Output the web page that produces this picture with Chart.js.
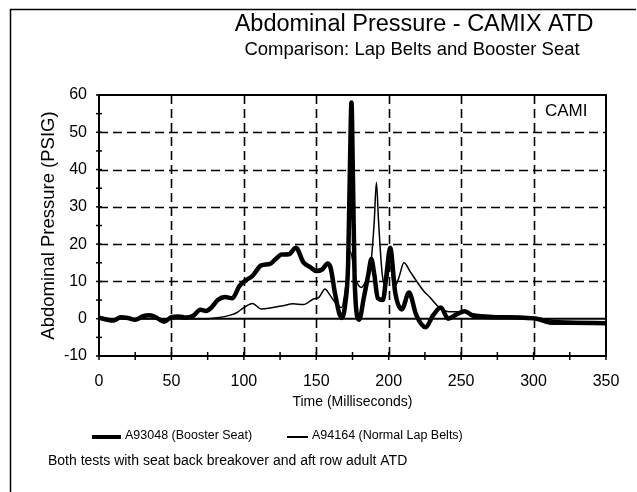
<!DOCTYPE html>
<html>
<head>
<meta charset="utf-8">
<title>Abdominal Pressure - CAMIX ATD</title>
<script src="https://cdn.jsdelivr.net/npm/chart.js@4.4.1/dist/chart.umd.min.js"></script>
<style>
  html, body { margin: 0; padding: 0; background: #fff; }
  #wrap { width: 637px; height: 492px; position: relative; }
</style>
</head>
<body>
<div id="wrap"><canvas id="c" width="637" height="492"></canvas></div>
<script>
// Booster seat test A93048 (thick trace): time in ms, pressure in PSIG
const boosterTime = [0, 5, 10, 15, 20, 25, 30, 35, 40, 45, 50, 55, 60, 65, 70, 74, 78, 82, 87, 92,
  97, 101, 106, 112, 118, 122, 126, 131, 136, 141, 146, 150, 154, 158, 160, 163, 167.5, 170, 172,
  173.2, 174.3, 175.3, 176.5, 179.5, 183, 186, 188, 190, 192.5, 196, 198.5, 201, 204.5, 209, 214,
  219, 225.5, 230.5, 236, 241, 247, 252.5, 258, 265, 275, 290, 302, 311, 325, 350];
const boosterPSI = [0.3, -0.2, -0.5, 0.4, 0.2, -0.3, 0.6, 0.9, 0.2, -0.8, 0.4, 0.6, 0.3, 0.8, 2.4, 2.1, 3.2, 5.0, 5.8, 5.5,
  8.8, 10.2, 11.5, 14.3, 14.7, 16.0, 17.2, 17.3, 19.0, 15.2, 13.8, 12.8, 13.2, 14.8, 13.5, 6.6, 0.2, 4, 15,
  40, 58, 38, 10, -0.3, 6, 12, 16, 12, 5.5, 5, 12, 19, 7, 2.5, 7,
  1.0, -2.3, 0.8, 3.0, 0, 1.2, 2.0, 0.8, 0.5, 0.4, 0.3, 0, -1, -1.1, -1.2];

// Normal lap belt test A94164 (thin trace)
const lapTime = [0, 20, 40, 60, 75, 83, 90, 95, 100, 106, 112, 120, 127, 134, 141, 148, 152, 156, 159,
  164, 167.5, 170.5, 173.5, 177, 181, 185, 188, 190, 191.5, 193, 195.5, 198, 201, 204, 207, 210.5,
  215, 219, 224, 228.5, 235, 242, 250, 260, 275, 300, 315, 330, 350];
const lapPSI = [0, 0, 0, 0, 0, 0.3, 0.9, 1.6, 3.0, 4.1, 2.6, 3.0, 3.5, 4.0, 3.8, 5.3, 5.8, 8.0, 6.6,
  3.9, 3.0, 9, 18, 11, 8.4, 11, 16, 26, 36.5, 26, 12, 9, 14, 8.5, 11, 15,
  12.5, 10.2, 7.5, 5.7, 3.0, 1.9, 1.9, 1.2, 0.8, 0.4, -0.5, -0.8, -0.8];

const seriesLabels = ['A93048 (Booster Seat)', 'A94164 (Normal Lap Belts)'];
const xTicks = [0, 50, 100, 150, 200, 250, 300, 350];
const yTicks = [-10, 0, 10, 20, 30, 40, 50, 60];

const chartTitle = 'Abdominal Pressure - CAMIX ATD';
const chartSubtitle = 'Comparison: Lap Belts and Booster Seat';
const cornerTag = 'CAMI';
const footNote = 'Both tests with seat back breakover and aft row adult ATD';

const FONT = '"Liberation Sans", Arial, Helvetica, sans-serif';

const toPoints = (xs, ys) => xs.map((x, i) => ({ x, y: ys[i] }));

// Dashed grid, zero line, crossing tick marks and the plot frame
const gridPlugin = {
  id: 'grid',
  beforeDatasetsDraw(chart) {
    const { ctx, chartArea: a, scales: { x, y } } = chart;
    ctx.save();
    ctx.strokeStyle = '#000';
    ctx.lineWidth = 1.6;
    ctx.setLineDash([9, 5]);
    xTicks.slice(1, -1).forEach(v => {
      const px = Math.round(x.getPixelForValue(v)) + 0.5;
      ctx.beginPath(); ctx.moveTo(px, a.top); ctx.lineTo(px, a.bottom); ctx.stroke();
    });
    yTicks.slice(2, -1).forEach(v => {
      const py = Math.round(y.getPixelForValue(v)) + 0.5;
      ctx.beginPath(); ctx.moveTo(a.left, py); ctx.lineTo(a.right, py); ctx.stroke();
    });
    ctx.setLineDash([]);
    // zero line
    ctx.lineWidth = 2;
    const y0 = y.getPixelForValue(0);
    ctx.beginPath(); ctx.moveTo(a.left, y0); ctx.lineTo(a.right, y0); ctx.stroke();
    ctx.restore();
  },
  afterDatasetsDraw(chart) {
    const { ctx, chartArea: a, scales: { x, y } } = chart;
    ctx.save();
    ctx.strokeStyle = '#000';
    ctx.lineWidth = 2;
    ctx.strokeRect(a.left, a.top, a.right - a.left, a.bottom - a.top);
    ctx.lineWidth = 1.5;
    for (let v = 0; v <= 350; v += 25) {
      const px = x.getPixelForValue(v);
      ctx.beginPath(); ctx.moveTo(px, a.bottom - 4); ctx.lineTo(px, a.bottom + 4); ctx.stroke();
    }
    for (let v = -10; v <= 60; v += 5) {
      const py = y.getPixelForValue(v);
      ctx.beginPath(); ctx.moveTo(a.left - 3, py); ctx.lineTo(a.left + 3, py); ctx.stroke();
    }
    ctx.restore();
  }
};

// Titles, corner tag, legend and footnote
const textPlugin = {
  id: 'texts',
  afterDraw(chart) {
    const { ctx } = chart;
    ctx.save();
    ctx.fillStyle = '#000';
    ctx.strokeStyle = '#000';
    // outer frame
    ctx.lineWidth = 1.5;
    ctx.beginPath();
    ctx.moveTo(10.5, 500); ctx.lineTo(10.5, 9.5); ctx.lineTo(636, 9.5);
    ctx.stroke();

    ctx.textBaseline = 'middle';
    ctx.textAlign = 'center';
    ctx.font = '23.5px ' + FONT;
    ctx.fillText(chartTitle, 414, 25);
    ctx.font = '18.5px ' + FONT;
    ctx.fillText(chartSubtitle, 412, 50);

    ctx.textAlign = 'left';
    ctx.font = '17px ' + FONT;
    ctx.fillText(cornerTag, 545, 111);

    // legend
    const ds = chart.data.datasets;
    const items = [{ x0: 92, x1: 121, tx: 125 }, { x0: 287, x1: 308, tx: 312 }];
    ctx.font = '12.5px ' + FONT;
    items.forEach((it, i) => {
      ctx.lineWidth = i === 0 ? 4 : 2;
      ctx.beginPath(); ctx.moveTo(it.x0, 437); ctx.lineTo(it.x1, 437); ctx.stroke();
      ctx.fillText(ds[i].label, it.tx, 436);
    });

    ctx.font = '14px ' + FONT;
    ctx.fillText(footNote, 48, 461);
    ctx.restore();
  }
};

new Chart(document.getElementById('c'), {
  type: 'line',
  data: {
    datasets: [
      {
        label: seriesLabels[0],
        data: toPoints(boosterTime, boosterPSI),
        borderColor: '#000',
        borderWidth: 4.5,
        pointRadius: 0,
        cubicInterpolationMode: 'monotone',
        borderJoinStyle: 'round',
        borderCapStyle: 'round'
      },
      {
        label: seriesLabels[1],
        data: toPoints(lapTime, lapPSI),
        borderColor: '#000',
        borderWidth: 1.5,
        pointRadius: 0,
        cubicInterpolationMode: 'monotone'
      }
    ]
  },
  options: {
    responsive: false,
    animation: false,
    events: [],
    layout: { padding: { top: 95, right: 31, bottom: 76, left: 0 } },
    plugins: { legend: { display: false }, title: { display: false }, tooltip: { enabled: false } },
    scales: {
      x: {
        type: 'linear',
        min: 0, max: 350,
        afterFit: s => { s.height = 60; },
        afterBuildTicks: s => { s.ticks = xTicks.map(v => ({ value: v })); },
        grid: { display: false },
        border: { display: false },
        ticks: { color: '#000', font: { family: FONT, size: 16 }, padding: 8, maxRotation: 0 },
        title: { display: true, text: 'Time (Milliseconds)', color: '#000',
                 font: { family: FONT, size: 14 }, padding: { top: 0, bottom: 5 } }
      },
      y: {
        min: -10, max: 60,
        afterFit: s => { s.width = 99; },
        afterBuildTicks: s => { s.ticks = yTicks.map(v => ({ value: v })); },
        grid: { display: false },
        border: { display: false },
        ticks: { color: '#000', font: { family: FONT, size: 16 }, padding: 4 },
        title: { display: true, text: 'Abdominal Pressure (PSIG)', color: '#000',
                 font: { family: FONT, size: 18.5 }, padding: { top: 38, bottom: 0 } }
      }
    }
  },
  plugins: [gridPlugin, textPlugin]
});
</script>
</body>
</html>
